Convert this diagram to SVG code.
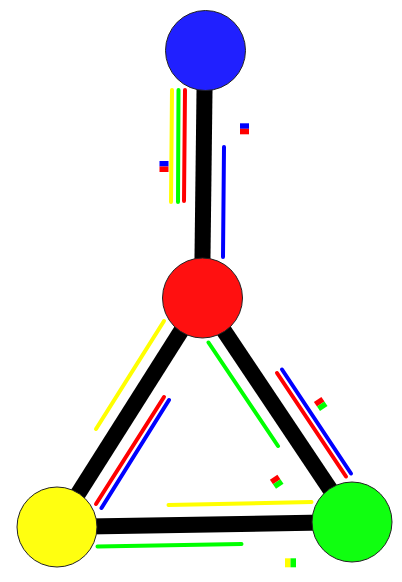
<svg xmlns="http://www.w3.org/2000/svg" width="402" height="582" viewBox="0 0 402 582">
<style>
.edge{stroke:#000;stroke-width:16;fill:none}
.fl{stroke-width:4;stroke-linecap:round;fill:none}
.y{stroke:#ffff00}.g{stroke:#00ff00}.r{stroke:#ff0000}.b{stroke:#0000ff}
.node{stroke:#222;stroke-width:1}
</style>
<rect width="402" height="582" fill="#fff"/>
<g id="connectors">
<line class="edge" x1="205" y1="50" x2="202" y2="298"/>
<line class="edge" x1="202" y1="298" x2="57" y2="527"/>
<line class="edge" x1="202" y1="298" x2="352" y2="522"/>
<line class="edge" x1="57" y1="527" x2="352" y2="522"/>
<line class="fl y" x1="172" y1="90" x2="171" y2="202"/>
<line class="fl g" x1="178.5" y1="90" x2="178" y2="202"/>
<line class="fl r" x1="185" y1="90" x2="184" y2="201"/>
<line class="fl b" x1="224" y1="147" x2="223" y2="257"/>
<line class="fl y" x1="164" y1="321" x2="96" y2="429"/>
<line class="fl r" x1="164" y1="397" x2="96" y2="504"/>
<line class="fl b" x1="169" y1="400" x2="101.5" y2="508"/>
<line class="fl g" x1="208.5" y1="342.5" x2="278" y2="446"/>
<line class="fl r" x1="277" y1="373" x2="346" y2="476.5"/>
<line class="fl b" x1="282" y1="369.5" x2="351" y2="473.5"/>
<line class="fl y" x1="168.5" y1="505" x2="311.5" y2="502"/>
<line class="fl g" x1="97.5" y1="546.5" x2="241.5" y2="544"/>
<g transform="translate(244.5,128.8)"><rect x="-4.5" y="-5.5" width="9" height="5.5" fill="#0000ff"/><rect x="-4.5" y="0" width="9" height="5.5" fill="#ff0000"/></g>
<g transform="translate(164,166.5)"><rect x="-4.5" y="-5.5" width="9" height="5.5" fill="#0000ff"/><rect x="-4.5" y="0" width="9" height="5.5" fill="#ff0000"/></g>
<g transform="translate(320.7,404) rotate(-33.8)"><rect x="-4.5" y="-5.5" width="9" height="5.5" fill="#ff0000"/><rect x="-4.5" y="0" width="9" height="5.5" fill="#00ff00"/></g>
<g transform="translate(276.7,481.7) rotate(-33.8)"><rect x="-4.5" y="-5.5" width="9" height="5.5" fill="#ff0000"/><rect x="-4.5" y="0" width="9" height="5.5" fill="#00ff00"/></g>
<g transform="translate(290.5,562.8)"><rect x="-5.5" y="-4.5" width="5.5" height="9" fill="#ffff00"/><rect x="0" y="-4.5" width="5.5" height="9" fill="#00ff00"/></g>
</g>
<g id="node-blue"><circle class="node" cx="205.5" cy="50.5" r="40" fill="#2020ff"/></g>
<g id="node-red"><circle class="node" cx="202.5" cy="298" r="40" fill="#ff1010"/></g>
<g id="node-yellow"><circle class="node" cx="57" cy="527" r="40" fill="#ffff10"/></g>
<g id="node-green"><circle class="node" cx="352" cy="522" r="40" fill="#10ff10"/></g>
</svg>
